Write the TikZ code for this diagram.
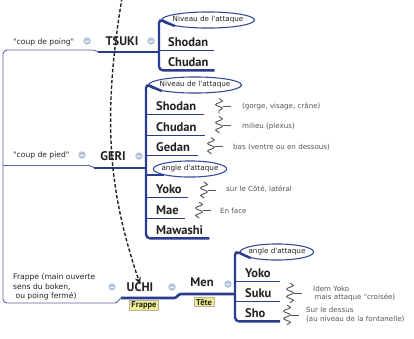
\documentclass[tikz,border=0pt]{standalone}
\usepackage{fontspec}
\setmainfont{PT Sans}
\newfontfamily\smallf{DejaVu Sans}
\usetikzlibrary{shapes.geometric,decorations.pathmorphing,arrows.meta}
\definecolor{thickc}{HTML}{2B3C8F}
\definecolor{thinc}{HTML}{55649A}
\definecolor{ellc}{HTML}{3A4A9A}
\definecolor{txtc}{HTML}{222222}
\definecolor{notec}{HTML}{555555}
\definecolor{iconc}{HTML}{B4C6DC}
\definecolor{yelc}{HTML}{F2EE8C}
\newcommand\myul[3]{\draw[underl] ([yshift=-4pt]#2.base -| #1) -- ([xshift=#3,yshift=-4pt]#2.base east);}
\begin{document}
\begin{tikzpicture}[x=1pt,y=-1pt,
  mainlbl/.style={font=\fontsize{12.5}{13}\selectfont\bfseries, text=txtc, inner sep=0pt},
  childlbl/.style={mainlbl, anchor=west},
  notelbl/.style={font=\smallf\fontsize{7.1}{8.8}\selectfont, text=notec, inner sep=0pt, anchor=west, align=left},
  sidelbl/.style={font=\smallf\fontsize{7.6}{9.6}\selectfont, text=txtc, inner sep=0pt, anchor=west, align=left},
  ellnode/.style={ellipse, draw=ellc, line width=1.1pt, font=\smallf\fontsize{7.2}{8}\selectfont, text=txtc, inner xsep=-2.5pt, inner ysep=2.2pt},
  tag/.style={fill=yelc, draw=gray!60, font=\fontsize{8.5}{9}\selectfont\bfseries, text=txtc, inner xsep=2pt, inner ysep=1.2pt},
  iconn/.style={circle, fill=iconc, minimum size=7.5pt, inner sep=0pt,
    path picture={\draw[white, line width=0.8pt] ([xshift=-2pt]path picture bounding box.center) -- ([xshift=2pt]path picture bounding box.center);}},
  thinl/.style={draw=thinc, line width=0.9pt},
  thickl/.style={draw=thickc, line width=2.6pt},
  bracketl/.style={draw=thickc, line width=2.4pt, rounded corners=4pt},
  underl/.style={draw=thickc, line width=1.2pt},
  squigline/.style={draw=notec, line width=0.9pt},
  squig/.pic={\draw[squigline, decorate, decoration={snake, segment length=7.5pt, amplitude=3.4pt}] (0,-#1) -- (0,#1);
              \draw[squigline] (3.5,0) -- (12,0);}
]
\useasboundingbox (0,0) rectangle (414,338);

% ---------- coordinates of the brackets ----------
\coordinate (bT) at (159,0);
\coordinate (bG) at (146,0);
\coordinate (bM) at (235,0);
\coordinate (xE) at (280,0);

% ---------- left tree lines ----------
\coordinate (L1) at (3,50);
\coordinate (L2) at (3,165);
\coordinate (L3) at (3,303);
\draw[thinl, rounded corners=4pt] (93,50) -- (L1) -- (L3) -- (115,303);
\draw[thinl] (L2) -- (88,165);

% ---------- TSUKI ----------
\node[sidelbl] (cpoing) at (13,42) {"coup de poing"};
\node[iconn] (i1) at (87,41) {};
\node[mainlbl] (tsuki) at (122,41) {TSUKI};
\node[iconn] (i2) at (151,41) {};
\draw[thinl] (93,50) to[out=0,in=180] (99,52);
\draw[thickl] (98,52) -- (bT |- 0,52);

\node[ellnode] (eT) at (208,20) {Niveau de l'attaque};
\node[childlbl] (tS) at (168,42) {Shodan};
\node[childlbl] (tC) at (168,62) {Chudan};
\coordinate (tCu) at ([yshift=-4pt]tC.base east);
\draw[bracketl] (eT.south west) -- ([yshift=1pt]bT |- eT.west) -- (bT |- tCu) -- ([xshift=6pt]tCu);
\myul{bT}{tS}{6pt}

% ---------- GERI ----------
\node[sidelbl] (cpied) at (13,155) {"coup de pied"};
\node[iconn] (i3) at (82,155) {};
\node[mainlbl] (geri) at (113,156) {GERI};
\node[iconn] (i4) at (139,156) {};
\draw[thinl] (88,165) to[out=0,in=180] (95,168);
\draw[thickl] (94,168) -- (bG |- 0,168);

\node[ellnode] (eG1) at (195,85) {Niveau de l'attaque};
\node[childlbl] (gS) at (156,106) {Shodan};
\node[childlbl] (gC) at (156,127) {Chudan};
\node[childlbl] (gG) at (156,147) {Gedan};
\node[ellnode] (eG2) at (190,169) {angle d'attaque};
\node[childlbl] (gY) at (156,189) {Yoko};
\node[childlbl] (gM) at (156,210) {Mae};
\node[childlbl] (gW) at (156,230) {Mawashi};
\coordinate (gWu) at ([yshift=-4pt]gW.base east);
\draw[bracketl] (eG1.south west) -- ([yshift=1pt]bG |- eG1.west) -- (bG |- gWu) -- ([xshift=6pt]gWu);
\draw[underl] (bG |- eG2.south west) -- (eG2.south west);
\myul{bG}{gS}{8pt}
\myul{bG}{gC}{8pt}
\myul{bG}{gG}{8pt}
\myul{bG}{gY}{6pt}
\myul{bG}{gM}{6pt}

\pic at (219,106) {squig=7.5};
\node[notelbl] (nS) at (242,106) {(gorge, visage, crâne)};
\pic at (219,125) {squig=8.5};
\node[notelbl] (nC) at (242,127) {milieu (plexus)};
\pic at (211,146) {squig=8.5};
\node[notelbl] (nG) at (233,147) {bas (ventre ou en dessous)};
\pic at (204,190) {squig=8};
\node[notelbl] (nY) at (226,189) {sur le Côté, latéral};
\pic at (199,210) {squig=8};
\node[notelbl] (nM) at (220,211) {En face};

% ---------- UCHI ----------
\node[sidelbl] (frap) at (13,287) {Frappe (main ouverte\\sens du boken,\\\ ou poing fermé)};
\node[iconn] (i5) at (112,287) {};
\node[mainlbl] (uchi) at (140,287) {UCHI};
\node[iconn] (i6) at (172,287) {};
\node[tag] (tFr) at (144,305) {Frappe};
\draw[thinl] (115,303) to[out=0,in=180] (122,298);
\draw[thickl] (121,298) -- (174,298) to[out=0,in=180] (181,294) -- (bM |- 0,294);

\node[mainlbl] (men) at (202,282) {Men};
\node[iconn] (i7) at (228,284) {};
\node[tag] (tTe) at (204,302) {Tête};

\node[ellnode] (eM) at (277,252) {angle d'attaque};
\node[childlbl] (mY) at (245,273) {Yoko};
\node[childlbl] (mS) at (245,293) {Suku};
\node[childlbl] (mH) at (245,313) {Sho};
\coordinate (mHu) at ([yshift=-4pt]mH.base);
\draw[bracketl] (eM.south west) -- ([yshift=1pt]bM |- eM.west) -- (bM |- mHu) -- (xE |- mHu);
\myul{bM}{mY}{6pt}
\myul{bM}{mS}{6pt}
\coordinate (mYu) at ([yshift=-4pt]mY.base east);
\coordinate (mSu) at ([yshift=-4pt]mS.base east);
\draw[underl] (mYu) -- (xE |- mYu);
\draw[underl] (mSu) -- (xE |- mSu);

\pic at (290,293) {squig=10};
\node[notelbl] (nSu) at (313,293.5) {Idem Yoko\\\hspace{1.5pt}mais attaque "croisée)};
\pic at (287,315) {squig=10};
\node[notelbl] (nSh) at (306,314.5) {Sur le dessus\\(au niveau de la fontanelle)};

% ---------- dashed arrow ----------
\coordinate (dTop) at (122,-2);
\draw[draw=txtc, line width=1.4pt, dash pattern=on 3.5pt off 2pt, -{Stealth[length=7pt,width=6pt]}]
  (dTop) .. controls (100,130) and (112,200) .. ([yshift=-2pt]uchi.north);
\end{tikzpicture}
\end{document}
